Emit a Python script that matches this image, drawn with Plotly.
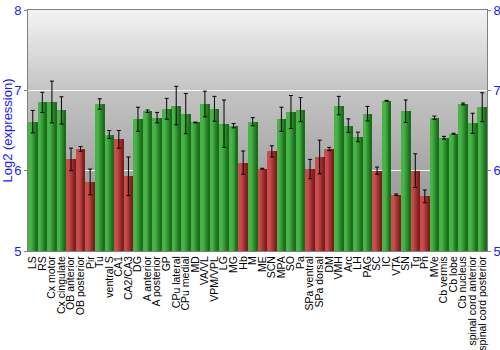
import plotly.graph_objects as go

categories = ["LS", "RS", "Cx motor", "Cx cingulate", "OB anterior", "OB posterior", "Pir", "Tu",
              "ventral S", "CA1", "CA2/CA3", "DG", "A anterior", "A posterior", "GP", "CPu lateral",
              "CPu medial", "MD", "VA/VL", "VPM/VPL", "LG", "MG", "Hb", "M", "ME", "SCN", "MPA", "SO",
              "Pa", "SPa ventral", "SPa dorsal", "DM", "VMH", "Arc", "LH", "PAG", "SC", "IC", "VTA",
              "SN", "Tg", "Pn", "MVe", "Cb vermis", "Cb lobe", "Cb nucleus", "spinal cord anterior",
              "spinal cord posterior"]
values = [6.61, 6.85, 6.855, 6.75, 6.14, 6.27, 5.86, 6.83,
          6.45, 6.39, 5.93, 6.64, 6.74, 6.66, 6.77, 6.81,
          6.71, 6.60, 6.83, 6.77, 6.585, 6.56, 6.10, 6.61, 6.025, 6.24, 6.64, 6.73,
          6.76, 6.02, 6.17, 6.27, 6.81, 6.56, 6.42, 6.71, 6.00, 6.87, 5.70,
          6.74, 6.00, 5.68, 6.66, 6.41, 6.46, 6.83, 6.59, 6.79]
errors = [0.14, 0.125, 0.26, 0.17, 0.14, 0.03, 0.16, 0.065,
          0.05, 0.11, 0.24, 0.15, 0.015, 0.065, 0.13, 0.24,
          0.25, 0.005, 0.16, 0.155, 0.295, 0.027, 0.145, 0.05, 0.005, 0.07, 0.15, 0.205,
          0.15, 0.12, 0.21, 0.02, 0.115, 0.085, 0.06, 0.09, 0.045, 0.005, 0.01,
          0.14, 0.21, 0.08, 0.02, 0.017, 0.005, 0.012, 0.125, 0.18]
red_set = {"OB anterior", "OB posterior", "Pir", "CA1", "CA2/CA3", "Hb", "ME", "SCN",
           "SPa ventral", "SPa dorsal", "DM", "SC", "VTA", "Tg", "Pn"}
groups = ["red" if c in red_set else "green" for c in categories]

x = list(range(len(categories)))

green_light, green_dark = (72, 180, 72), (26, 110, 26)
red_light, red_dark = (200, 78, 78), (128, 30, 30)

def mix(a, b, t):
    return "rgb(%d,%d,%d)" % tuple(round(a[i] + (b[i] - a[i]) * t) for i in range(3))

fig = go.Figure()

n_slices = 9
bar_w = 0.9
sw = bar_w / n_slices
for k in range(n_slices):
    t = k / (n_slices - 1)
    tt = 0.0 if t < 0.3 else (t - 0.3) / 0.7
    cols = [mix(green_light, green_dark, tt) if g == "green" else mix(red_light, red_dark, tt)
            for g in groups]
    fig.add_trace(go.Bar(
        x=x, y=[v - 5 for v in values], base=5,
        width=sw * 1.05, offset=-bar_w / 2 + k * sw,
        marker=dict(color=cols, line=dict(width=0)),
        hoverinfo="skip", showlegend=False,
    ))

fig.add_trace(go.Scatter(
    x=x, y=values, mode="markers", marker=dict(size=0.1, color="rgba(0,0,0,0)"),
    error_y=dict(type="data", array=errors, color="black", thickness=1, width=2),
    showlegend=False, hoverinfo="skip",
))
fig.add_trace(go.Scatter(x=[x[0]], y=[values[0]], yaxis="y2", mode="markers",
                         marker=dict(opacity=0), showlegend=False, hoverinfo="skip"))

# background vertical gradient (piecewise grey levels at y = 5, 6, 7, 8)
stops = [(5, 140), (6, 166), (7, 196), (8, 243)]

def grey_at(v):
    for (a, ga), (b, gb) in zip(stops[:-1], stops[1:]):
        if a <= v <= b:
            g = round(ga + (gb - ga) * (v - a) / (b - a))
            return "rgb(%d,%d,%d)" % (g, g, g)
    return "rgb(243,243,243)"

shapes = []
n_bands = 75
for i in range(n_bands):
    y0 = 5 + 3 * i / n_bands
    y1 = min(8, 5 + 3 * (i + 1) / n_bands + 0.03)
    shapes.append(dict(type="rect", xref="paper", yref="y", x0=0, x1=1, y0=y0, y1=y1,
                       fillcolor=grey_at((y0 + 5 + 3 * (i + 1) / n_bands) / 2),
                       line=dict(width=0), layer="below"))

blue = "#1a1aff"
fig.update_layout(
    width=500, height=350,
    margin=dict(l=28, r=13, t=10, b=99, autoexpand=False),
    paper_bgcolor="white", plot_bgcolor="rgba(0,0,0,0)",
    barmode="overlay", bargap=0,
    shapes=shapes,
    font=dict(family="Liberation Sans, Arial, sans-serif"),
    xaxis=dict(range=[-0.5, len(categories) - 0.5], tickmode="array", tickvals=x,
               ticktext=categories, tickangle=-90, tickfont=dict(size=10.5, color="black"),
               showgrid=False, zeroline=False, showline=True, linecolor="#808080", mirror=True,
               ticks="", ticklen=0, automargin=False),
    yaxis=dict(range=[5, 8], tickvals=[5, 6, 7, 8], tickfont=dict(size=13, color=blue),
               title=dict(text="Log2 (expression)", font=dict(size=13, color=blue), standoff=2),
               showgrid=True, gridcolor="rgba(255,255,255,0.85)", gridwidth=1, zeroline=False,
               showline=True, linecolor="#808080", ticks="outside", ticklen=3, tickcolor="#808080",
               automargin=False),
    yaxis2=dict(range=[5, 8], tickvals=[5, 6, 7, 8], overlaying="y", side="right",
                tickfont=dict(size=13, color=blue), showgrid=False, zeroline=False,
                showline=True, linecolor="#808080", ticks="outside", ticklen=3, tickcolor="#808080",
                automargin=False),
)

fig.write_html("out.html")
